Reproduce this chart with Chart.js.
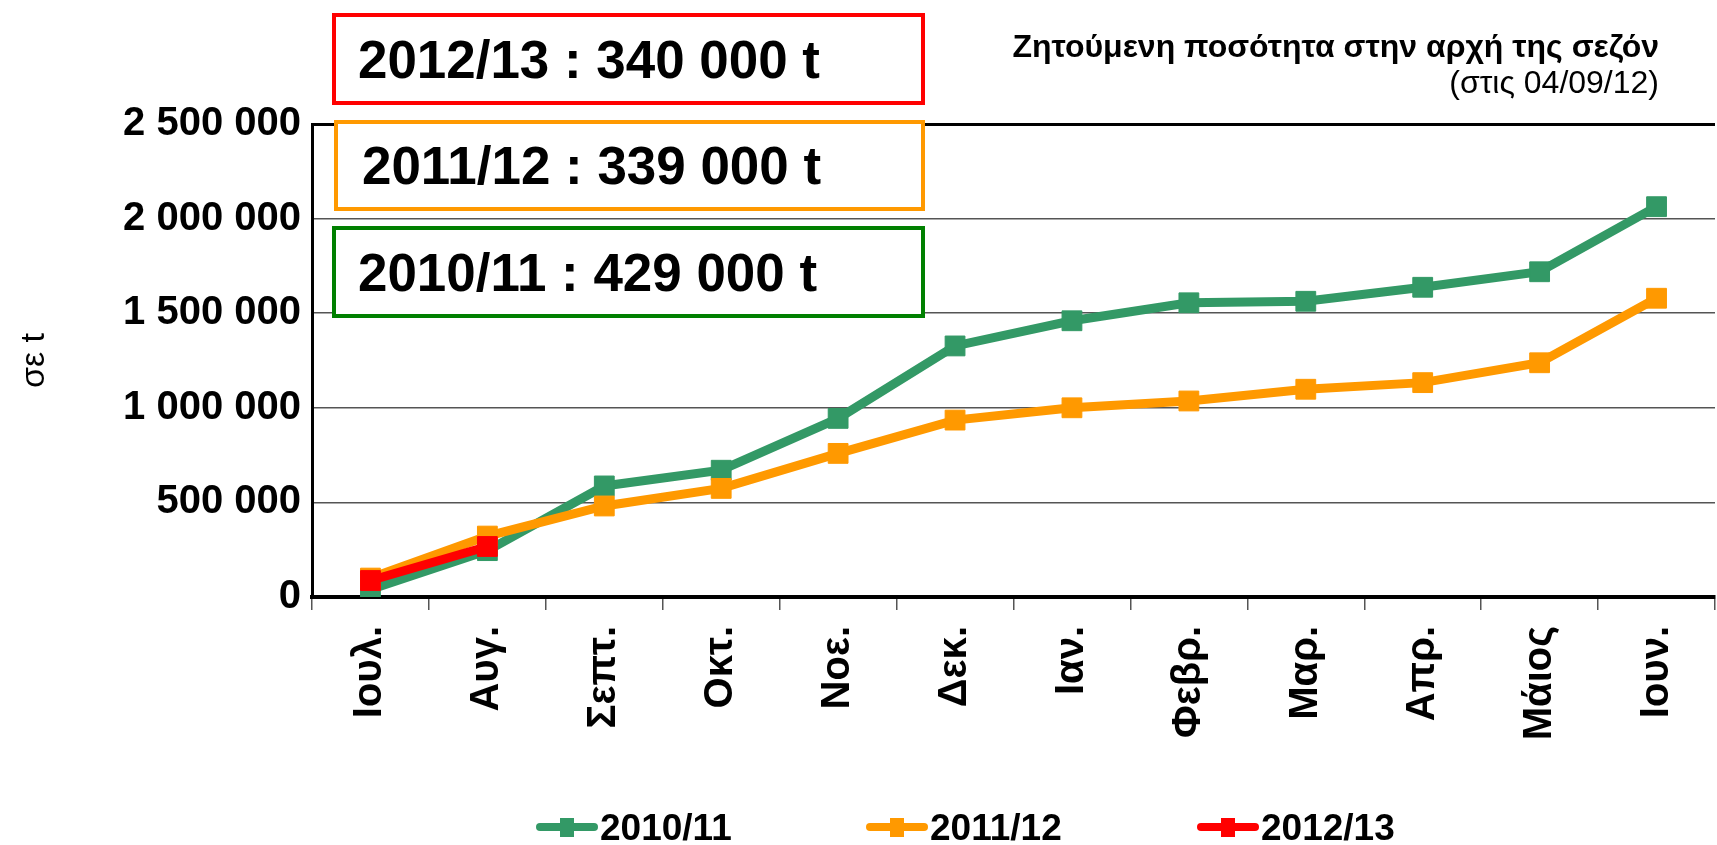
<!DOCTYPE html>
<html>
<head>
<meta charset="utf-8">
<script src="https://cdn.jsdelivr.net/npm/chart.js@4.4.1/dist/chart.umd.min.js"></script>
<style>
  html, body { margin: 0; padding: 0; background: #fff; overflow: hidden; }
  body { width: 1717px; height: 845px; position: relative; font-family: 'Liberation Sans', Arial, sans-serif; }
  #wrap { position: absolute; left: 0; top: 0; width: 1730px; height: 845px; }
  .box { position: absolute; box-sizing: border-box; background: #fff; border: 4px solid; z-index: 2;
         font-weight: bold; font-size: 54px; color: #000; white-space: nowrap; }
  .box span { display: inline-block; transform: scaleX(0.98); transform-origin: left center; }
  .note { position: absolute; right: 58px; z-index: 2; color: #000; white-space: nowrap; text-align: right; }
</style>
</head>
<body>
<div id="wrap"><canvas id="chart"></canvas></div>

<div class="box" style="left:332px;top:13px;width:593px;height:92px;border-color:#ff0000;line-height:84px;padding-left:22px;"><span>2012/13 : 340 000 t</span></div>
<div class="box" style="left:334px;top:120px;width:591px;height:91px;border-color:#ff9900;line-height:83px;padding-left:24px;"><span>2011/12 : 339 000 t</span></div>
<div class="box" style="left:332px;top:226px;width:593px;height:92px;border-color:#008000;line-height:84px;padding-left:22px;"><span>2010/11 : 429 000 t</span></div>

<div class="note" style="top:28px;font-weight:bold;font-size:32px;">Ζητούμενη ποσότητα στην αρχή της σεζόν</div>
<div class="note" style="top:64px;font-size:32px;">(στις 04/09/12)</div>

<script>
const months = ['Ιουλ.', 'Αυγ.', 'Σεπτ.', 'Οκτ.', 'Νοε.', 'Δεκ.', 'Ιαν.', 'Φεβρ.', 'Μαρ.', 'Απρ.', 'Μάιος', 'Ιουν.'];
const season1011 = [40000, 245000, 587000, 670000, 944000, 1327000, 1460000, 1555000, 1563000, 1637000, 1719000, 2063000];
const season1112 = [100000, 322000, 481000, 574000, 759000, 935000, 1000000, 1036000, 1098000, 1133000, 1238000, 1579000];
const season1213 = [87000, 267000];
const seriesNames = ['2010/11', '2011/12', '2012/13'];
const seriesColors = ['#339966', '#ff9900', '#ff0000'];
const yTicks = [0, 500000, 1000000, 1500000, 2000000, 2500000];

const fmt = v => String(v).replace(/\B(?=(\d{3})+(?!\d))/g, ' ');
const FONT = "'Liberation Sans', Arial, sans-serif";

// legend drawn like the spreadsheet one: line with a square on it
const legendPlugin = {
  id: 'lineLegend',
  afterDraw(chart) {
    const ctx = chart.ctx;
    const xs = [536, 866, 1197];
    const y = 827;
    chart.data.datasets.forEach((ds, i) => {
      const x0 = xs[i];
      ctx.save();
      ctx.strokeStyle = ds.borderColor;
      ctx.lineWidth = 8;
      ctx.lineCap = 'round';
      ctx.beginPath(); ctx.moveTo(x0 + 4, y); ctx.lineTo(x0 + 58, y); ctx.stroke();
      ctx.fillStyle = ds.borderColor;
      ctx.fillRect(x0 + 24, y - 9, 14, 19);
      ctx.fillStyle = '#000';
      ctx.font = 'bold 37px ' + FONT;
      ctx.textBaseline = 'alphabetic';
      ctx.fillText(ds.label, x0 + 64, 840);
      ctx.restore();
    });
  }
};

const makeSet = (i, data, order) => ({
  label: seriesNames[i], data,
  borderColor: seriesColors[i], backgroundColor: seriesColors[i],
  borderWidth: 9, pointStyle: 'rect', pointRadius: 14, pointBorderWidth: 1,
  pointBackgroundColor: seriesColors[i], pointBorderColor: seriesColors[i],
  tension: 0, order
});

new Chart(document.getElementById('chart'), {
  type: 'line',
  data: {
    labels: months,
    datasets: [makeSet(0, season1011, 3), makeSet(1, season1112, 2), makeSet(2, season1213, 1)]
  },
  options: {
    responsive: true, maintainAspectRatio: false, animation: false,
    layout: { padding: { top: 124, right: 5, bottom: 0, left: 0 } },
    plugins: { legend: { display: false }, tooltip: { enabled: false } },
    scales: {
      x: {
        offset: true,
        afterFit: s => { s.height = 248; },
        border: { display: true, color: '#000', width: 4 },
        grid: { offset: true, drawOnChartArea: false, drawTicks: true, tickLength: 13, color: '#555', lineWidth: 1.5 },
        ticks: { color: '#000', font: { family: FONT, size: 40, weight: 'bold' }, maxRotation: 90, minRotation: 90, padding: 16, autoSkip: false }
      },
      y: {
        min: 0, max: 2500000,
        afterFit: s => { s.width = 312; },
        afterBuildTicks: s => { s.ticks = yTicks.map(v => ({ value: v })); },
        border: { display: true, color: '#000', width: 3 },
        grid: {
          drawTicks: false,
          color: c => c.tick && c.tick.value === 2500000 ? '#000' : '#555',
          lineWidth: c => c.tick && c.tick.value === 2500000 ? 3 : 1.5
        },
        ticks: { color: '#000', font: { family: FONT, size: 40, weight: 'bold' }, padding: 11, callback: v => fmt(v) },
        title: { display: true, text: 'σε t', color: '#000', font: { family: FONT, size: 34 }, padding: { top: 14, bottom: 0 } }
      }
    }
  },
  plugins: [legendPlugin]
});
</script>
</body>
</html>
